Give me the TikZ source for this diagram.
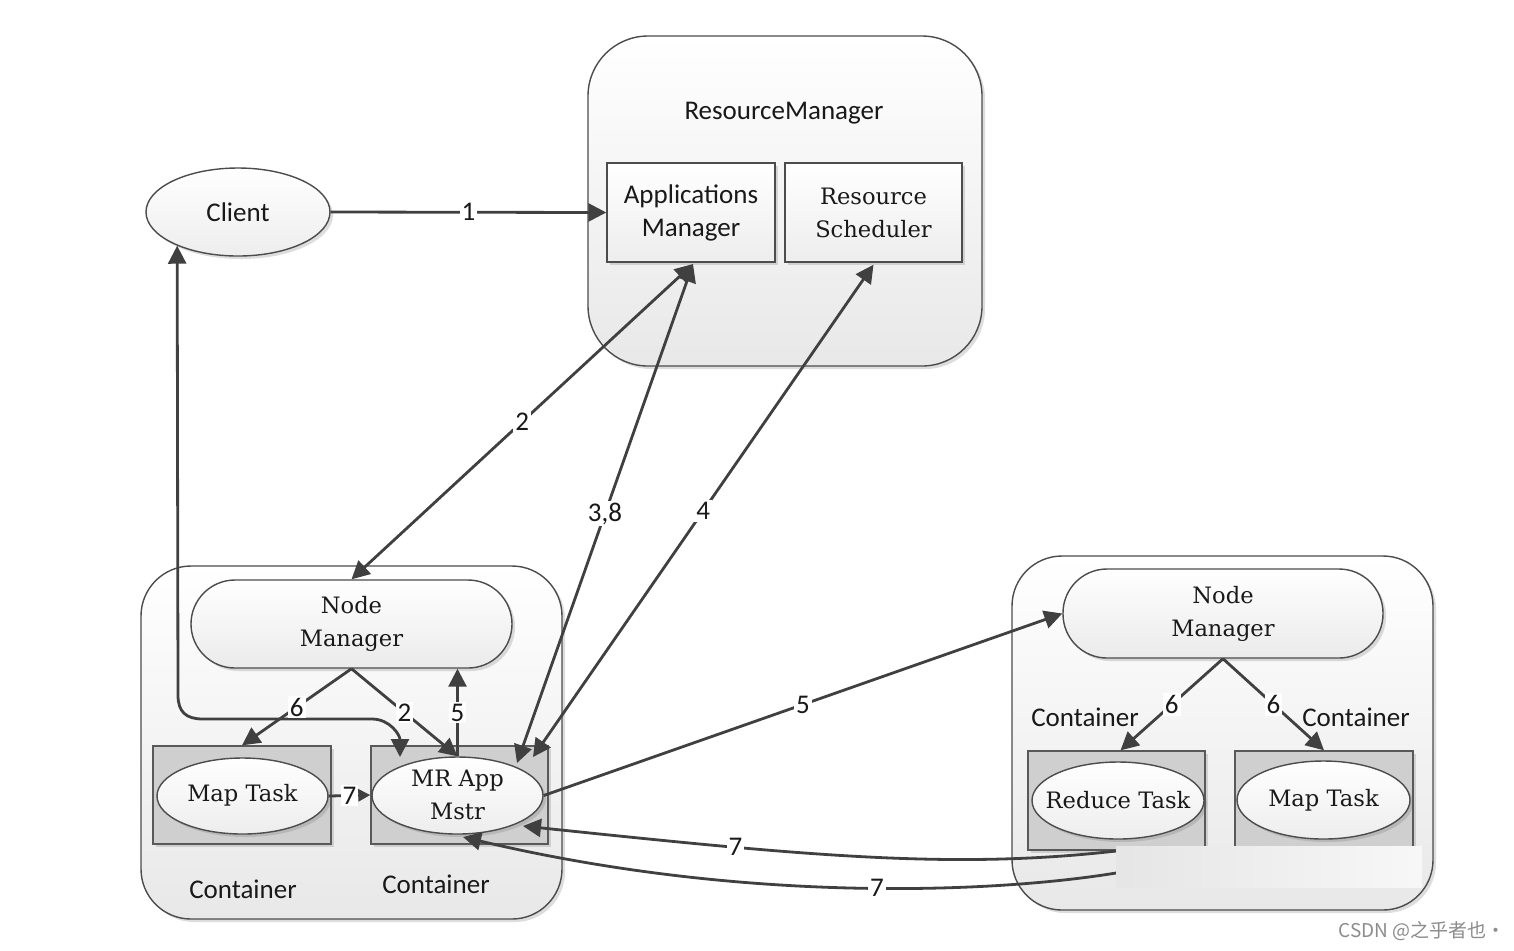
\documentclass[tikz,border=0pt]{standalone}
\usepackage{fontspec}
\newfontfamily\sansf{Carlito}
\newfontfamily\serf{DejaVu Serif}
\newfontfamily\cjkf{Noto Sans CJK SC}
\usetikzlibrary{arrows.meta,shapes.geometric,shadows}
\begin{document}
\begin{tikzpicture}[x=0.5pt,y=-0.5pt,
  shd/.style={drop shadow={shadow xshift=1.5pt,shadow yshift=-1.5pt,opacity=0.22,fill=black!60}},
  bigbox/.style={shd,draw=black!70,line width=0.7pt,rounded corners=30pt,top color=white,bottom color=black!9,inner sep=0pt},
  smallbox/.style={shd,draw=black!70,line width=0.7pt,top color=white,bottom color=black!7,inner sep=0pt,align=center},
  stadium/.style={shd,draw=black!70,line width=0.7pt,rounded corners=22pt,top color=white,bottom color=black!8,inner sep=0pt,align=center},
  cont/.style={shd,draw=black!65,line width=0.7pt,fill=black!19,inner sep=0pt},
  ell/.style={ellipse,shd,draw=black!70,line width=0.7pt,top color=white,bottom color=black!7,inner sep=0pt},
  sf/.style={font=\sansf\fontsize{13.5pt}{16.5pt}\selectfont,text=black!90},
  rm/.style={font=\serf\fontsize{11.3pt}{16.5pt}\selectfont,text=black!90,align=center},
  ln/.style={draw=black!75,line width=1.4pt},
  tp/.style={-{Triangle[length=9pt,width=9pt]}},
  tpb/.style={{Triangle[length=9pt,width=9pt]}-{Triangle[length=9pt,width=9pt]}},
  lab/.style={fill=white,inner sep=1pt,font=\sansf\fontsize{13.5pt}{15pt}\selectfont,text=black!90}
]
\useasboundingbox (0,0) rectangle (1514,950);
\fill[white] (0,0) rectangle (1514,950);

% ResourceManager
\node[bigbox,minimum width=197pt,minimum height=165pt] (rm) at (785,201) {};
\node[sf] (rmlabel) at (784,113) {ResourceManager};
\node[smallbox,sf,minimum width=84pt,minimum height=49.5pt] (am) at (691,212.5) {Applications\\Manager};
\node[smallbox,rm,minimum width=88.5pt,minimum height=49.5pt] (rs) at (873.5,212.5) {Resource\\Scheduler};

% Client
\node[ell,minimum width=92pt,minimum height=44pt] (client) at (238,212) {};
\node[sf] (clientt) at (238,212) {Client};

% Left node
\node[bigbox,rounded corners=25pt,minimum width=210.5pt,minimum height=176.5pt] (lnode) at (351.5,742.5) {};
\node[stadium,rm,minimum width=160.5pt,minimum height=44pt] (nml) at (351.5,624) {Node\\Manager};
\node[cont,minimum width=89pt,minimum height=49pt] (mtlc) at (242,795) {};
\node[ell,minimum width=85.5pt,minimum height=38pt] (mtl) at (242.5,796) {};
\node[rm] (mtlt) at (242.5,795) {Map Task};
\node[cont,minimum width=88.5pt,minimum height=49pt] (mrc) at (459.5,795) {};
\node[ell,minimum width=85.5pt,minimum height=38.5pt] (mr) at (457.5,795.5) {};
\node[rm] (mrt) at (457.5,795) {MR App\\Mstr};
\node[sf] (cl1) at (243,889) {Container};
\node[sf] (cl2) at (436,884) {Container};

% Right node
\node[bigbox,rounded corners=25pt,minimum width=210.5pt,minimum height=177pt] (rnode) at (1222.5,733) {};
\node[stadium,rm,minimum width=160pt,minimum height=44.5pt] (nmr) at (1223,613.5) {Node\\Manager};
\node[cont,minimum width=88.5pt,minimum height=49.5pt] (rtc) at (1116.5,800.5) {};
\node[ell,minimum width=86pt,minimum height=38.5pt] (rt) at (1118,800.5) {};
\node[rm] (rtt) at (1118,800) {Reduce Task};
\node[cont,minimum width=89pt,minimum height=49.5pt] (mtrc) at (1324,800.5) {};
\node[ell,minimum width=86.5pt,minimum height=39pt] (mtr) at (1323.5,800) {};
\node[rm] (mtrt) at (1323.5,800) {Map Task};
\node[sf] (cr1) at (1085,717) {Container};
\node[sf] (cr2) at (1356,717) {Container};

% coordinates
\coordinate (amb) at (693,264);
\coordinate (mr38) at (517,763);
\coordinate (mr4) at (533,757);
\coordinate (cv1) at (178,695);
\coordinate (ch2) at (372,719);
\coordinate (cmr) at (400,757);
\coordinate (s7a) at (1116,851);
\coordinate (e7a) at (523,826);
\coordinate (s7b) at (1116,873);
\coordinate (e7b) at (463,837);

% connectors
\draw[ln,tp] (client.east) -- node[lab]{1} (am.west);
\draw[ln,tpb] (nml.north) -- node[lab]{2} (amb);
\draw[ln,tpb] (mr38) -- node[lab]{3,8} (amb);
\draw[ln,tpb] (mr4) -- node[lab]{4} ([yshift=-1pt]rs.south);
\draw[ln,tp] (mr.east) -- node[lab]{5} (nmr.west);
\draw[ln,tpb] (client.209) -- (cv1) .. controls (178,712) and (186,719) .. (203,719) -- (ch2) .. controls (390,719) and (400,735) .. (cmr);
\draw[ln,tp] (nml.south) -- node[lab]{6} (mtlc.north);
\draw[ln,tp] (nml.south) -- node[lab]{2} (mr.north);
\draw[ln,tp] (mr.north) -- node[lab]{5} (nml.south -| mr.north);
\draw[ln,-{Triangle[length=6pt,width=6pt]}] (mtl.east) -- node[lab]{7} (mrc.west);
\draw[ln,tp] (nmr.south) -- node[lab]{6} ([xshift=2pt]rtc.north);
\draw[ln,tp] (nmr.south) -- node[lab]{6} (mtrc.north);
\draw[ln,tp] (s7a) .. controls (950,870) and (800,855) .. node[lab,pos=0.71]{7} (e7a);
\draw[ln,tp] (s7b) .. controls (1000,892) and (750,905) .. node[lab,pos=0.465]{7} (e7b);

% erased patch
\node[inner sep=0pt,minimum width=153pt,minimum height=20.5pt,left color=black!10,right color=black!3] (patch) at (1269,866.5) {};

% watermark
\node[font=\cjkf\fontsize{9.5pt}{11pt}\selectfont,text=black!45] (wm) at (1422,931) {CSDN @之乎者也·};
\end{tikzpicture}
\end{document}
